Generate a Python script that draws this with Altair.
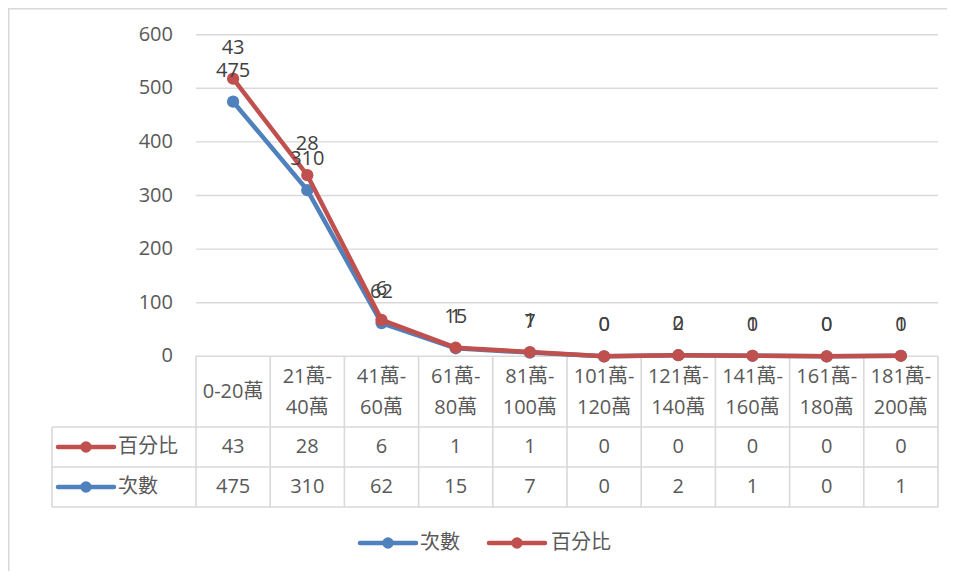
import altair as alt
import pandas as pd

# ---------------- data ----------------
categories = ["0-20萬", "21萬-40萬", "41萬-60萬", "61萬-80萬", "81萬-100萬",
              "101萬-120萬", "121萬-140萬", "141萬-160萬", "161萬-180萬", "181萬-200萬"]
counts = [475, 310, 62, 15, 7, 0, 2, 1, 0, 1]          # 次數
percents = [43, 28, 6, 1, 1, 0, 0, 0, 0, 0]            # 百分比
series_names = ["次數", "百分比"]
series_colors = ["#4F81BD", "#C0504D"]
y_ticks = [0, 100, 200, 300, 400, 500, 600]

# ---------------- layout helpers ----------------
W, H = 939, 563
PX0, COLW = 196.0, 74.2      # first category column left edge, column width (px)
PY0, PPU = 356.3, 0.536      # y pixel of value 0, px per unit
FONT = "Open Sans, Noto Sans CJK TC, sans-serif"
TXT = "#595959"
GRID = "#D9D9D9"
FS = 20


def ux(px):
    return (px - PX0) / COLW


def vy(py):
    return (PY0 - py) / PPU


xs = alt.Scale(domain=[ux(8), ux(8 + W)], nice=False, zero=False)
ys = alt.Scale(domain=[vy(8 + H), vy(8)], nice=False, zero=False)
n = len(categories)

df = pd.DataFrame({
    "xc": [i + 0.5 for i in range(n)],
    "cat": [c.replace("萬-", "萬-\n") for c in categories],
    "count": counts,
    "pct": percents,
})
df["hy"] = [vy(376.5) if "\n" in c else vy(392) for c in df["cat"]]

# long form for series (百分比 stacked on 次數, as in the original)
rows = []
for i in range(n):
    rows.append({"xc": i + 0.5, "series": series_names[0], "v": counts[i], "lab": str(counts[i]), "o": 0})
    rows.append({"xc": i + 0.5, "series": series_names[1], "v": counts[i] + percents[i], "lab": str(percents[i]), "o": 1})
ser = pd.DataFrame(rows)
color = alt.Color("series:N", scale=alt.Scale(domain=series_names, range=series_colors), legend=None)

# ---------------- gridlines + y tick labels ----------------
grid_df = pd.DataFrame({"v": y_ticks, "x0": 0.0, "x1": float(n)})
grid = alt.Chart(grid_df).mark_rule(color=GRID, strokeWidth=1.4).encode(
    x=alt.X("x0:Q", scale=xs, axis=None), x2="x1:Q",
    y=alt.Y("v:Q", scale=ys, axis=alt.Axis(values=y_ticks, offset=-(PX0 - 8), labelPadding=23,
                                           domain=False, ticks=False, grid=False,
                                           labelFontSize=FS, labelColor=TXT, labelFont=FONT, title=None)),
)
tick_df = pd.DataFrame({"tv": y_ticks, "tl": [str(t) for t in y_ticks], "tx": ux(173)})
ytxt = alt.Chart(tick_df).mark_text(fontSize=FS, font=FONT, color=TXT, align="right", baseline="middle").encode(
    x=alt.X("tx:Q", scale=xs, axis=None), y=alt.Y("tv:Q", scale=ys, axis=None), text="tl:N")

# ---------------- table lines ----------------
row_tops = [427, 467, 507]
h_df = pd.DataFrame({"v": [vy(p) for p in row_tops], "x0": ux(52), "x1": float(n)})
h_lines = alt.Chart(h_df).mark_rule(color=GRID, strokeWidth=1.6).encode(
    x=alt.X("x0:Q", scale=xs, axis=None), x2="x1:Q", y=alt.Y("v:Q", scale=ys, axis=None))
v_df = pd.DataFrame({"x": [float(i) for i in range(n + 1)] + [ux(52)],
                     "y0": [0.0] * (n + 1) + [vy(427)],
                     "y1": [vy(507)] * (n + 2)})
v_lines = alt.Chart(v_df).mark_rule(color=GRID, strokeWidth=1.6).encode(
    x=alt.X("x:Q", scale=xs, axis=None), y=alt.Y("y0:Q", scale=ys, axis=None), y2="y1:Q")

# ---------------- series lines / points / labels ----------------
lines = alt.Chart(ser).mark_line(strokeWidth=4.5).encode(
    x=alt.X("xc:Q", scale=xs, axis=None), y=alt.Y("v:Q", scale=ys, axis=None),
    color=color, detail="series:N", order="o:Q")
blue_line = lines.transform_filter(alt.datum.series == series_names[0])
red_line = lines.transform_filter(alt.datum.series == series_names[1])
pts = alt.Chart(ser).mark_point(filled=True, size=150, opacity=1, shape="circle").encode(
    x=alt.X("xc:Q", scale=xs, axis=None), y=alt.Y("v:Q", scale=ys, axis=None), color=color)
blue_pts = pts.transform_filter(alt.datum.series == series_names[0])
red_pts = pts.transform_filter(alt.datum.series == series_names[1])
labels = alt.Chart(ser).mark_text(dy=-31, fontSize=FS, font=FONT, color="#404040", baseline="middle").encode(
    x=alt.X("xc:Q", scale=xs, axis=None), y=alt.Y("v:Q", scale=ys, axis=None), text="lab:N")

# ---------------- table text ----------------
hdr = alt.Chart(df).mark_text(fontSize=FS, font=FONT, color=TXT, baseline="middle",
                              lineBreak="\n", lineHeight=31).encode(
    x=alt.X("xc:Q", scale=xs, axis=None), y=alt.Y("hy:Q", scale=ys, axis=None), text="cat:N")
pct_txt = alt.Chart(df).mark_text(fontSize=FS, font=FONT, color=TXT, baseline="middle").encode(
    x=alt.X("xc:Q", scale=xs, axis=None), y=alt.datum(vy(447), scale=ys), text="pct:Q")
cnt_txt = alt.Chart(df).mark_text(fontSize=FS, font=FONT, color=TXT, baseline="middle").encode(
    x=alt.X("xc:Q", scale=xs, axis=None), y=alt.datum(vy(487), scale=ys), text="count:Q")

# ---------------- legend keys (table rows + bottom legend) ----------------
key_df = pd.DataFrame({
    "series": [series_names[1], series_names[0], series_names[0], series_names[1]],
    "x0": [ux(58), ux(58), ux(360), ux(489)],
    "x1": [ux(114), ux(114), ux(416), ux(545)],
    "xm": [ux(86), ux(86), ux(388), ux(517)],
    "xt": [ux(118), ux(118), ux(420), ux(551)],
    "v": [vy(447), vy(487), vy(543), vy(543)],
})
key_line = alt.Chart(key_df).mark_rule(strokeWidth=4.5, strokeCap="round").encode(
    x=alt.X("x0:Q", scale=xs, axis=None), x2="x1:Q", y=alt.Y("v:Q", scale=ys, axis=None), color=color)
key_pt = alt.Chart(key_df).mark_point(filled=True, size=130, opacity=1, shape="circle").encode(
    x=alt.X("xm:Q", scale=xs, axis=None), y=alt.Y("v:Q", scale=ys, axis=None), color=color)
key_txt = alt.Chart(key_df).mark_text(fontSize=FS, font=FONT, color=TXT, align="left", baseline="middle").encode(
    x=alt.X("xt:Q", scale=xs, axis=None), y=alt.Y("v:Q", scale=ys, axis=None), text="series:N")

# ---------------- outer frame ----------------
frame_top = alt.Chart(pd.DataFrame({"a": [0]})).mark_rule(color=GRID, strokeWidth=1.5).encode(
    x=alt.value(0), x2=alt.value(W), y=alt.value(0.75))
frame_left = alt.Chart(pd.DataFrame({"a": [0]})).mark_rule(color=GRID, strokeWidth=1.5).encode(
    x=alt.value(0.75), y=alt.value(0), y2=alt.value(H))

chart = alt.layer(
    frame_top, frame_left, grid, ytxt, h_lines, v_lines,
    blue_line, blue_pts, red_line, red_pts, labels,
    hdr, pct_txt, cnt_txt, key_line, key_pt, key_txt,
).properties(
    width=W, height=H, autosize=alt.AutoSizeParams(type="none"), padding=0,
    background="white",
).configure_view(stroke=None)

chart.save("out.html", embed_options={"renderer": "svg", "actions": False})
